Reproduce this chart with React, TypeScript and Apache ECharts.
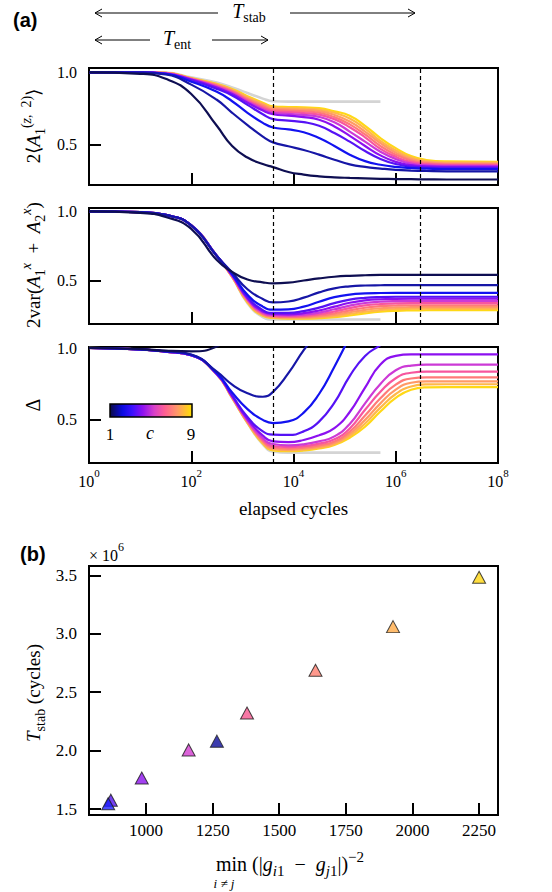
import React, { useEffect, useRef } from "react";
import * as echarts from "echarts";

// ---------------- data ----------------
// x positions of the sampled curve points, in log10(elapsed cycles)
const LOG10_CYCLES = [0, 1, 1.5, 2, 2.5, 2.8, 3.1, 3.4, 3.6, 3.9, 4.2, 4.5, 4.8, 5.1, 5.4, 5.7, 6.0, 6.3, 6.6, 7, 8];
const X_TICK_EXPONENTS = [0, 2, 4, 6, 8];
const X_MINOR_TICKS = [2, 4, 6];
const A_Y_TICKS = [0.5, 1.0];
const T_ENT = 4000; // cycles
const T_STAB_LONGEST = 3.0e6; // cycles

const LINE_COLORS = [
  "#0e0e52", "#1616a6", "#1212f0", "#5512f5", "#8c10f0", "#cc3ad6",
  "#f7569e", "#ff7a78", "#ff9a66", "#ffb84a", "#ffd816",
];
const GRAY = "#d4d4d4";

// panel 1: 2<A1^(z,2)>
const A1Z_CURVES = [
  [1.0, 0.99, 0.955, 0.85, 0.63, 0.49, 0.41, 0.365, 0.344, 0.31, 0.292, 0.28, 0.273, 0.269, 0.266, 0.263, 0.261, 0.26, 0.259, 0.258, 0.258],
  [1.0, 0.998, 0.985, 0.915, 0.81, 0.72, 0.635, 0.555, 0.515, 0.488, 0.462, 0.43, 0.395, 0.363, 0.345, 0.334, 0.325, 0.32, 0.317, 0.315, 0.315],
  [1.0, 0.999, 0.99, 0.935, 0.865, 0.8, 0.72, 0.65, 0.618, 0.605, 0.585, 0.545, 0.49, 0.43, 0.385, 0.36, 0.345, 0.337, 0.333, 0.33, 0.33],
  [1.0, 1.0, 0.99, 0.945, 0.885, 0.84, 0.775, 0.71, 0.676, 0.666, 0.655, 0.63, 0.58, 0.52, 0.455, 0.4, 0.365, 0.347, 0.34, 0.338, 0.337],
  [1.0, 1.0, 0.992, 0.95, 0.895, 0.85, 0.79, 0.735, 0.71, 0.7, 0.69, 0.672, 0.625, 0.56, 0.49, 0.425, 0.38, 0.357, 0.349, 0.346, 0.345],
  [1.0, 1.0, 0.993, 0.952, 0.9, 0.857, 0.797, 0.745, 0.72, 0.712, 0.705, 0.692, 0.655, 0.59, 0.52, 0.45, 0.4, 0.368, 0.357, 0.352, 0.351],
  [1.0, 1.0, 0.994, 0.954, 0.905, 0.864, 0.805, 0.755, 0.73, 0.724, 0.718, 0.707, 0.675, 0.62, 0.55, 0.47, 0.415, 0.378, 0.364, 0.358, 0.357],
  [1.0, 1.0, 0.995, 0.956, 0.91, 0.87, 0.813, 0.765, 0.74, 0.735, 0.73, 0.72, 0.69, 0.64, 0.57, 0.49, 0.43, 0.39, 0.372, 0.365, 0.363],
  [1.0, 1.0, 0.996, 0.957, 0.913, 0.875, 0.82, 0.775, 0.749, 0.744, 0.74, 0.732, 0.705, 0.66, 0.59, 0.51, 0.445, 0.4, 0.378, 0.37, 0.369],
  [1.0, 1.0, 0.997, 0.958, 0.917, 0.88, 0.828, 0.782, 0.757, 0.752, 0.749, 0.742, 0.72, 0.68, 0.61, 0.525, 0.46, 0.41, 0.386, 0.377, 0.375],
  [1.0, 1.0, 0.997, 0.96, 0.92, 0.885, 0.835, 0.79, 0.765, 0.76, 0.757, 0.752, 0.73, 0.7, 0.63, 0.545, 0.475, 0.42, 0.393, 0.383, 0.381],
];
const A1Z_GRAY = [1.0, 1.0, 0.998, 0.965, 0.93, 0.895, 0.857, 0.818, 0.8, 0.797, 0.797, 0.797, 0.797, 0.797, 0.797, 0.797, null, null, null, null, null];

// panel 2: 2var(A1^x + A2^x)
const VAR_CURVES = [
  [1.0, 0.99, 0.96, 0.875, 0.65, 0.565, 0.51, 0.49, 0.483, 0.488, 0.503, 0.518, 0.53, 0.537, 0.541, 0.543, 0.543, 0.543, 0.543, 0.543, 0.543],
  [1.0, 0.995, 0.975, 0.9, 0.68, 0.56, 0.44, 0.37, 0.345, 0.352, 0.38, 0.418, 0.447, 0.461, 0.467, 0.469, 0.47, 0.47, 0.47, 0.47, 0.47],
  [1.0, 0.995, 0.975, 0.9, 0.68, 0.55, 0.4, 0.315, 0.293, 0.295, 0.315, 0.35, 0.383, 0.402, 0.41, 0.413, 0.414, 0.414, 0.414, 0.414, 0.414],
  [1.0, 0.995, 0.975, 0.9, 0.68, 0.545, 0.385, 0.29, 0.27, 0.27, 0.283, 0.308, 0.34, 0.365, 0.378, 0.384, 0.386, 0.386, 0.386, 0.386, 0.386],
  [1.0, 0.995, 0.975, 0.9, 0.68, 0.54, 0.375, 0.28, 0.262, 0.26, 0.268, 0.287, 0.315, 0.343, 0.36, 0.368, 0.371, 0.372, 0.372, 0.372, 0.372],
  [1.0, 0.995, 0.975, 0.9, 0.68, 0.54, 0.37, 0.273, 0.255, 0.252, 0.257, 0.272, 0.296, 0.322, 0.341, 0.351, 0.355, 0.356, 0.356, 0.356, 0.356],
  [1.0, 0.995, 0.975, 0.9, 0.68, 0.535, 0.365, 0.267, 0.25, 0.246, 0.249, 0.26, 0.28, 0.304, 0.324, 0.334, 0.339, 0.34, 0.34, 0.34, 0.34],
  [1.0, 0.995, 0.975, 0.9, 0.68, 0.535, 0.36, 0.262, 0.245, 0.241, 0.243, 0.251, 0.267, 0.288, 0.307, 0.318, 0.323, 0.325, 0.325, 0.325, 0.325],
  [1.0, 0.995, 0.975, 0.9, 0.68, 0.53, 0.355, 0.257, 0.241, 0.237, 0.238, 0.244, 0.256, 0.274, 0.292, 0.303, 0.309, 0.311, 0.312, 0.312, 0.312],
  [1.0, 0.995, 0.975, 0.9, 0.68, 0.53, 0.35, 0.253, 0.237, 0.233, 0.233, 0.238, 0.247, 0.262, 0.278, 0.29, 0.297, 0.3, 0.301, 0.301, 0.301],
  [1.0, 0.995, 0.975, 0.9, 0.68, 0.53, 0.345, 0.249, 0.233, 0.229, 0.229, 0.232, 0.239, 0.251, 0.266, 0.278, 0.285, 0.288, 0.289, 0.29, 0.29],
];
const VAR_GRAY = [1.0, 0.995, 0.975, 0.9, 0.68, 0.53, 0.34, 0.24, 0.222, 0.222, 0.222, 0.222, 0.222, 0.222, 0.222, 0.222, null, null, null, null, null];

// panel 3: Delta
const DELTA_CURVES = [
  [1.0, 0.993, 0.982, 0.977, 1.01, 1.12, null, null, null, null, null, null, null, null, null, null, null, null, null, null, null],
  [1.0, 0.99, 0.978, 0.955, 0.835, 0.745, 0.685, 0.661, 0.695, 0.825, 0.985, 1.12, null, null, null, null, null, null, null, null, null],
  [1.0, 0.99, 0.976, 0.952, 0.825, 0.69, 0.575, 0.5, 0.478, 0.49, 0.55, 0.68, 0.87, 1.08, null, null, null, null, null, null, null],
  [1.0, 0.99, 0.975, 0.95, 0.82, 0.67, 0.52, 0.42, 0.397, 0.395, 0.42, 0.488, 0.62, 0.805, 0.945, 1.02, 1.1, null, null, null, null],
  [1.0, 0.99, 0.975, 0.95, 0.82, 0.665, 0.505, 0.39, 0.35, 0.345, 0.36, 0.393, 0.442, 0.555, 0.725, 0.885, 0.945, 0.955, 0.955, 0.955, 0.955],
  [1.0, 0.99, 0.975, 0.95, 0.82, 0.662, 0.497, 0.372, 0.332, 0.323, 0.33, 0.35, 0.385, 0.472, 0.615, 0.75, 0.845, 0.878, 0.885, 0.885, 0.885],
  [1.0, 0.99, 0.975, 0.95, 0.819, 0.66, 0.492, 0.362, 0.318, 0.31, 0.317, 0.335, 0.365, 0.44, 0.57, 0.695, 0.79, 0.828, 0.835, 0.835, 0.835],
  [1.0, 0.99, 0.975, 0.95, 0.818, 0.658, 0.488, 0.353, 0.308, 0.3, 0.307, 0.323, 0.35, 0.418, 0.53, 0.65, 0.745, 0.788, 0.795, 0.795, 0.795],
  [1.0, 0.99, 0.975, 0.95, 0.818, 0.656, 0.485, 0.346, 0.3, 0.293, 0.299, 0.314, 0.339, 0.402, 0.5, 0.615, 0.71, 0.758, 0.768, 0.768, 0.768],
  [1.0, 0.99, 0.975, 0.95, 0.817, 0.654, 0.482, 0.34, 0.294, 0.287, 0.293, 0.307, 0.331, 0.388, 0.475, 0.585, 0.68, 0.732, 0.747, 0.748, 0.748],
  [1.0, 0.99, 0.975, 0.95, 0.817, 0.652, 0.479, 0.335, 0.288, 0.282, 0.287, 0.301, 0.325, 0.376, 0.452, 0.558, 0.653, 0.71, 0.726, 0.728, 0.728],
];
const DELTA_GRAY = [1.0, 0.99, 0.975, 0.95, 0.817, 0.652, 0.478, 0.33, 0.28, 0.272, 0.272, 0.272, 0.272, 0.272, 0.272, 0.272, null, null, null, null, null];

// panel (b)
const MIN_GAP_INV = [868, 858, 984, 1160, 1266, 1379, 1636, 1927, 2250];
const T_STAB = [1.576e6, 1.546e6, 1.765e6, 2.006e6, 2.081e6, 2.322e6, 2.688e6, 3.061e6, 3.483e6];
const POINT_COLORS = ["#5312ee", "#1e1eff", "#8c12ec", "#d23ccf", "#0c0c9a", "#f5568f", "#ff8070", "#ffab48", "#ffd610"];
const B_X_TICKS = [1000, 1250, 1500, 1750, 2000, 2250];
const B_Y_TICKS = [1.5e6, 2.0e6, 2.5e6, 3.0e6, 3.5e6];

const COLORBAR_STOPS = [
  [0, "#0a0a45"], [0.15, "#0a0ae0"], [0.27, "#3a10ff"], [0.4, "#8e10f0"],
  [0.54, "#d840c8"], [0.67, "#ff5f92"], [0.82, "#ff9868"], [1, "#ffe000"],
];

// ---------------- option ----------------
const FONT = "Liberation Serif";
const gx = (size: number, extra: any = {}) => ({ fontFamily: FONT, fontSize: size, fill: "#000", ...extra });
const Z = 100;
const text = (x: number, y: number, t: string, style: any, extra: any = {}) => ({
  type: "text", x, y, z: Z, silent: true, ...extra,
  style: { text: t, align: "center", verticalAlign: "middle", textAlign: "center", textVerticalAlign: "middle", fill: "#000", ...style },
});

const GRID_BOXES = [
  { left: 89, top: 68, width: 409, height: 117 },
  { left: 89, top: 208, width: 409, height: 116 },
  { left: 89, top: 347, width: 409, height: 116 },
  { left: 89, top: 566, width: 409, height: 249 },
];

function buildOption() {
  const grid = GRID_BOXES.map((g) => ({
    ...g, show: true, borderColor: "#000", borderWidth: 2, backgroundColor: "rgba(0,0,0,0)",
    containLabel: false,
  }));
  const yRanges = [[0.22, 1.03], [0.19, 1.025], [0.2, 1.007]];
  const tickStyle = { show: true, inside: true, length: 12, lineStyle: { color: "#000", width: 2 } };

  const xAxis: any[] = [0, 1, 2].map((i) => ({
    type: "value", gridIndex: i, min: 0, max: 8,
    axisLine: { show: false }, splitLine: { show: false },
    axisTick: { ...tickStyle, customValues: X_MINOR_TICKS },
    axisLabel: { show: false },
    name: i === 2 ? "elapsed cycles" : "",
    nameLocation: "middle", nameGap: 36,
    nameTextStyle: { fontFamily: FONT, fontSize: 19, color: "#000" },
  }));
  xAxis.push({
    type: "value", gridIndex: 3, min: 786, max: 2321,
    axisLine: { show: false }, splitLine: { show: false },
    axisTick: { ...tickStyle, customValues: B_X_TICKS },
    axisLabel: { show: false },
  });

  const yAxis: any[] = [0, 1, 2].map((i) => ({
    type: "value", gridIndex: i, min: yRanges[i][0], max: yRanges[i][1],
    axisLine: { show: false }, splitLine: { show: false },
    axisTick: { ...tickStyle, customValues: A_Y_TICKS },
    axisLabel: { show: false },
  }));
  yAxis.push({
    type: "value", gridIndex: 3, min: 1.449e6, max: 3.58e6,
    axisLine: { show: false }, splitLine: { show: false },
    axisTick: { ...tickStyle, customValues: B_Y_TICKS },
    axisLabel: { show: false },
  });

  const toData = (vals: (number | null)[]) => LOG10_CYCLES.map((e, i) => [e, vals[i] == null ? "-" : vals[i]]);
  const lineSeries = (vals: (number | null)[], color: string, idx: number, width: number, extra: any = {}) => ({
    type: "line", xAxisIndex: idx, yAxisIndex: idx, data: toData(vals),
    symbol: "none", showSymbol: false, smooth: 0.5, clip: true, silent: true,
    connectNulls: false, lineStyle: { color, width }, itemStyle: { color },
    emphasis: { disabled: true }, ...extra,
  });
  const dashed = {
    silent: true, symbol: ["none", "none"], label: { show: false }, animation: false,
    lineStyle: { color: "#000", type: [4, 3], width: 1.2 },
    emphasis: { disabled: true },
    data: [{ xAxis: Math.log10(T_ENT) }, { xAxis: Math.log10(T_STAB_LONGEST) }],
  };

  const series: any[] = [];
  const panels = [
    { curves: A1Z_CURVES, gray: A1Z_GRAY },
    { curves: VAR_CURVES, gray: VAR_GRAY },
    { curves: DELTA_CURVES, gray: DELTA_GRAY },
  ];
  panels.forEach((p, idx) => {
    series.push(lineSeries(p.gray, GRAY, idx, 2.6, { markLine: dashed }));
    for (let c = p.curves.length - 1; c >= 0; c--) {
      series.push(lineSeries(p.curves[c], LINE_COLORS[c], idx, 2.2));
    }
  });
  series.push({
    type: "scatter", xAxisIndex: 3, yAxisIndex: 3, symbol: "triangle", symbolSize: [13, 12],
    silent: true,
    data: MIN_GAP_INV.map((x, i) => ({ value: [x, T_STAB[i]], itemStyle: { color: POINT_COLORS[i] } })),
    itemStyle: { borderColor: "#1a1a1a", borderWidth: 1 },
  });

  return {
    animation: false,
    backgroundColor: "#fff",
    textStyle: { fontFamily: FONT },
    grid, xAxis, yAxis, series,
  };
}

function buildGraphics(chart: any) {
  const g: any[] = [];
  const line = (x1: number, y1: number, x2: number, y2: number) => ({
    type: "line", z: Z, silent: true, shape: { x1, y1, x2, y2 }, style: { stroke: "#000", lineWidth: 1 },
  });
  const head = (x: number, y: number, dir: number) => ({
    type: "polyline", z: Z, silent: true,
    shape: { points: [[x - dir * 7, y - 4], [x, y], [x - dir * 7, y + 4]] },
    style: { stroke: "#000", lineWidth: 1, fill: null },
  });
  const px = (gi: number, x: number, y: number) => chart.convertToPixel({ gridIndex: gi }, [x, y]) as number[];

  // ---- tick labels, placed through the axes' own scales ----
  const labelRight = GRID_BOXES[0].left - 12;
  [0, 1, 2].forEach((i) => {
    A_Y_TICKS.forEach((v) => {
      const [, y] = px(i, 0, v);
      g.push(text(labelRight, y, v.toFixed(1), { ...gx(16), align: "right", textAlign: "right" }));
    });
  });
  const p3Bottom = GRID_BOXES[2].top + GRID_BOXES[2].height;
  X_TICK_EXPONENTS.forEach((e) => {
    const [x] = px(2, e, 0.5);
    g.push(text(x, p3Bottom + 4, `{b|10}{s|${e}}`, {
      verticalAlign: "top", textVerticalAlign: "top",
      rich: {
        b: gx(16, { lineHeight: 22, verticalAlign: "bottom" }),
        s: gx(11, { lineHeight: 12, verticalAlign: "top" }),
      },
    }));
  });
  const bBottom = GRID_BOXES[3].top + GRID_BOXES[3].height;
  B_X_TICKS.forEach((v) => {
    const [x] = px(3, v, 2e6);
    g.push(text(x, bBottom + 15, String(v), gx(17)));
  });
  B_Y_TICKS.forEach((v) => {
    const [, y] = px(3, 1000, v);
    g.push(text(labelRight, y, (v / 1e6).toFixed(1), { ...gx(17), align: "right", textAlign: "right" }));
  });

  // ---- panel tags ----
  g.push(text(13, 20, "(a)", { fontFamily: "Liberation Sans", fontWeight: "bold", fontSize: 20, align: "left", textAlign: "left" }));
  g.push(text(20, 554, "(b)", { fontFamily: "Liberation Sans", fontWeight: "bold", fontSize: 20, align: "left", textAlign: "left" }));

  // ---- time-scale arrows ----
  const tRich = {
    it: gx(20, { fontStyle: "italic", lineHeight: 26, verticalAlign: "middle" }),
    sub: gx(14, { lineHeight: 14, verticalAlign: "bottom" }),
  };
  g.push(line(95, 13, 218, 13), line(290, 13, 415, 13), head(95, 13, -1), head(415, 13, 1));
  g.push(text(249, 11, "{it|T}{sub|stab}", { rich: tRich }));
  g.push(line(95, 40, 150, 40), line(212, 40, 268, 40), head(95, 40, -1), head(268, 40, 1));
  g.push(text(177, 38, "{it|T}{sub|ent}", { rich: tRich }));

  // ---- axis titles ----
  const labRich = (s: number) => ({
    r: gx(s, { lineHeight: s + 9, verticalAlign: "middle" }),
    it: gx(s, { fontStyle: "italic", lineHeight: s + 9, verticalAlign: "middle" }),
    sub: gx(s - 5, { lineHeight: s - 5, verticalAlign: "bottom" }),
    subit: gx(s - 5, { fontStyle: "italic", lineHeight: s - 5, verticalAlign: "bottom" }),
    sup: gx(s - 5, { lineHeight: s - 5, verticalAlign: "top" }),
    supit: gx(s - 5, { fontStyle: "italic", lineHeight: s - 5, verticalAlign: "top" }),
  });
  const ROT = Math.PI / 2;
  g.push(text(33, 126, "{r|2⟨}{it|A}{sub|1}{sup|(}{supit|z}{sup|,  2)}{r|⟩}", { rich: labRich(19) }, { rotation: ROT }));
  g.push(text(33, 265, "{r|2var(}{it|A}{sub|1}{supit|x}{r|  +  }{it|A}{sub|2}{supit|x}{r|)}", { rich: labRich(19) }, { rotation: ROT }));
  g.push(text(33, 405, "Δ", gx(20), { rotation: ROT }));
  g.push(text(33, 693, "{it|T}{sub|stab}{r| (cycles)}", { rich: labRich(19) }, { rotation: ROT }));

  g.push(text(89, 552, "{r|× 10}{sup|6}", {
    align: "left", textAlign: "left",
    rich: { r: gx(16, { lineHeight: 22, verticalAlign: "bottom" }), sup: gx(12, { lineHeight: 12, verticalAlign: "top" }) },
  }));
  g.push(text(290, 864, "{r|min (|}{it|g}{subit|i}{sub|1}{r|  −  }{it|g}{subit|j}{sub|1}{r||)}{sup|−2}", { rich: labRich(20) }));
  g.push(text(224, 883, "i ≠ j", gx(13, { fontStyle: "italic" })));

  // ---- colour bar ----
  g.push({
    type: "rect", z: Z, silent: true, shape: { x: 110, y: 404, width: 82, height: 13 },
    style: {
      fill: { type: "linear", x: 0, y: 0, x2: 1, y2: 0, colorStops: COLORBAR_STOPS.map(([o, c]) => ({ offset: o, color: c })) },
      stroke: "#000", lineWidth: 1.5,
    },
  });
  g.push(text(110, 434, "1", gx(17)));
  g.push(text(150, 433, "c", gx(18, { fontStyle: "italic" })));
  g.push(text(191, 434, "9", gx(17)));
  return g;
}

export default function App() {
  const ref = useRef<HTMLDivElement>(null);
  useEffect(() => {
    document.body.style.margin = "0";
    const chart = echarts.init(ref.current!, null, { renderer: "svg" });
    chart.setOption(buildOption() as any);
    chart.setOption({ graphic: buildGraphics(chart) } as any);
    return () => chart.dispose();
  }, []);
  return <div ref={ref} style={{ width: 552, height: 892 }} />;
}
